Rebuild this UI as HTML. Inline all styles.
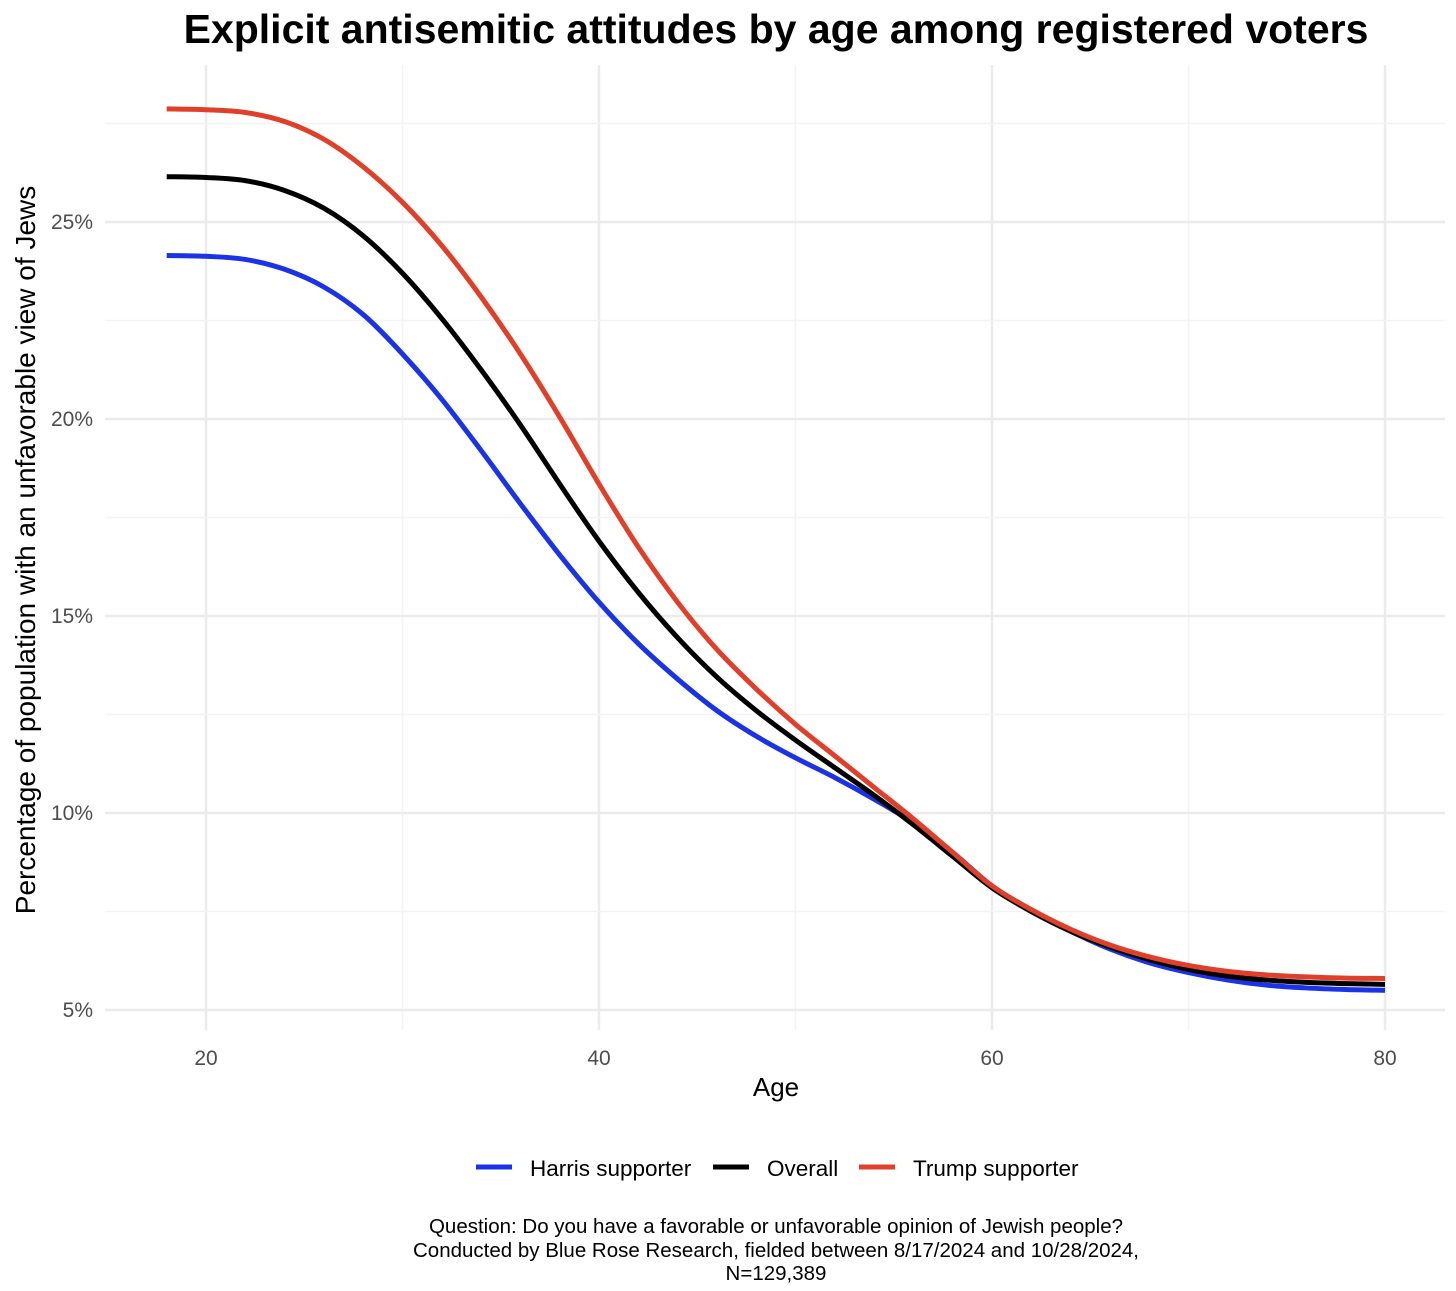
<!DOCTYPE html>
<html><head><meta charset="utf-8"><style>
body{margin:0;background:#fff;font-family:"Liberation Sans",Arial,sans-serif}
</style></head><body>
<svg id="chart" width="1456" height="1286" xmlns="http://www.w3.org/2000/svg">
<text x="776" y="43" text-anchor="middle" font-size="41" font-weight="bold" fill="#000">Explicit antisemitic attitudes by age among registered voters</text>
<g id="grid"></g>
<g id="axes"></g>
<g id="lines"></g>
<text x="776" y="1096" text-anchor="middle" font-size="26" fill="#000">Age</text>
<text transform="translate(35,550) rotate(-90)" text-anchor="middle" font-size="28" fill="#000">Percentage of population with an unfavorable view of Jews</text>
<g>
<g><line x1="476" y1="1167" x2="512" y2="1167" stroke="#1a33e6" stroke-width="5"/><text x="530" y="1176" font-size="22.5">Harris supporter</text></g>
<g><line x1="713" y1="1167" x2="749" y2="1167" stroke="#000" stroke-width="5"/><text x="767" y="1176" font-size="22.5">Overall</text></g>
<g><line x1="859" y1="1167" x2="895" y2="1167" stroke="#e0402a" stroke-width="5"/><text x="913" y="1176" font-size="22.5">Trump supporter</text></g>
</g>
<g font-size="20.5" text-anchor="middle" fill="#000">
<text x="776" y="1233">Question: Do you have a favorable or unfavorable opinion of Jewish people?</text>
<text x="776" y="1257">Conducted by Blue Rose Research, fielded between 8/17/2024 and 10/28/2024,</text>
<text x="776" y="1280">N=129,389</text>
</g>
</svg>
<script>
const ages=[18,20,22,24,26,28,30,32,34,36,38,40,42,44,46,48,50,52,54,56,58,60,62,64,66,68,70,72,74,76,78,80];
const trump=[27.87,27.85,27.78,27.55,27.10,26.40,25.50,24.40,23.10,21.65,20.05,18.35,16.75,15.35,14.15,13.15,12.25,11.45,10.65,9.85,9.0,8.15,7.55,7.05,6.65,6.35,6.13,5.98,5.89,5.84,5.81,5.8];
const overall=[26.15,26.13,26.05,25.80,25.35,24.65,23.70,22.55,21.25,19.85,18.35,16.90,15.60,14.45,13.45,12.60,11.85,11.15,10.45,9.70,8.90,8.10,7.5,7.0,6.6,6.28,6.03,5.86,5.76,5.7,5.67,5.65];
const harris=[24.15,24.13,24.05,23.80,23.35,22.65,21.65,20.50,19.20,17.85,16.55,15.35,14.30,13.40,12.60,11.95,11.40,10.90,10.35,9.75,9.0,8.15,7.52,7.0,6.55,6.2,5.95,5.76,5.63,5.56,5.52,5.5];
const xTicks=[20,40,60,80];
const yTicks=[5,10,15,20,25];
const NS="http://www.w3.org/2000/svg";
const X=a=>206+(a-20)*19.65;
const Y=v=>1010-(v-5)*39.4;
function mk(tag,attrs,parent){const e=document.createElementNS(NS,tag);for(const k in attrs)e.setAttribute(k,attrs[k]);parent.appendChild(e);return e;}
const grid=document.getElementById('grid'),axes=document.getElementById('axes'),lines=document.getElementById('lines');
for(let a=20;a<=80;a+=10){const major=a%20===0;const l=mk('line',{x1:X(a),x2:X(a),y1:65,y2:1030,stroke:major?'#ebebeb':'#f3f3f3','stroke-width':major?2.5:1.5},grid);

}
for(let v=5;v<=27.5;v+=2.5){const major=v%5===0;const l=mk('line',{x1:105,x2:1445,y1:Y(v),y2:Y(v),stroke:major?'#ebebeb':'#f3f3f3','stroke-width':major?2.5:1.5},grid);

}
xTicks.forEach(t=>{const e=mk('text',{x:X(t),y:1065,'text-anchor':'middle','font-size':21,fill:'#4d4d4d'},axes);e.textContent=t;

});
yTicks.forEach(t=>{const e=mk('text',{x:93,y:Y(t)+7,'text-anchor':'end','font-size':21,fill:'#4d4d4d'},axes);e.textContent=t+'%';

});
function path(vals){let p=[];for(let i=0;i<ages.length;i++)p.push([X(ages[i]),Y(vals[i])]);
let d='M'+p[0][0]+','+p[0][1];
for(let i=0;i<p.length-1;i++){const p0=p[Math.max(0,i-1)],p1=p[i],p2=p[i+1],p3=p[Math.min(p.length-1,i+2)];
d+=' C'+(p1[0]+(p2[0]-p0[0])/6)+','+(p1[1]+(p2[1]-p0[1])/6)+' '+(p2[0]-(p3[0]-p1[0])/6)+','+(p2[1]-(p3[1]-p1[1])/6)+' '+p2[0]+','+p2[1];}
return d;}
[[harris,'#1a33e6','harris-line'],[overall,'#000','overall-line'],[trump,'#e0402a','trump-line']].forEach(s=>{
const e=mk('path',{d:path(s[0]),fill:'none',stroke:s[1],'stroke-width':5,'stroke-linecap':'butt','stroke-linejoin':'round'},lines);

});
</script>
</body></html>
